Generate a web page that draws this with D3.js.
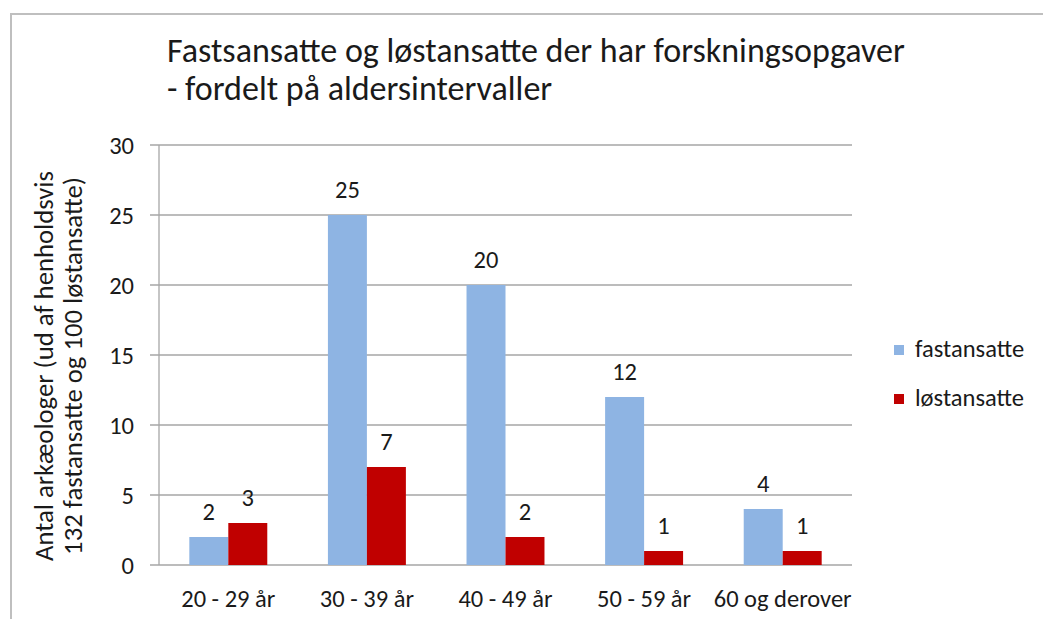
<!DOCTYPE html>
<html><head><meta charset="utf-8">
<script src="https://cdnjs.cloudflare.com/ajax/libs/d3/7.8.5/d3.min.js"></script>
<style>body{margin:0;background:#fff}svg{display:block}text{font-family:Carlito,Lato,"Open Sans",sans-serif;fill:#1a1a1a}</style>
</head><body><svg id="c" width="1043" height="619"></svg>
<script>
const categories = ["20 - 29 år","30 - 39 år","40 - 49 år","50 - 59 år","60 og derover"];
const seriesNames = ["fastansatte","løstansatte"];
const fastansatte = [2,25,20,12,4];
const loestansatte = [3,7,2,1,1];
const yTicks = [0,5,10,15,20,25,30];
const titleLines = ["Fastsansatte og løstansatte der har forskningsopgaver","- fordelt på aldersintervaller"];
const yTitleLines = ["Antal arkæologer  (ud af henholdsvis","132 fastansatte og 100 løstansatte)"];
const colors = ["#8EB4E3","#C00000"];

const svg = d3.select("#c");
const m = {left:159, right:852, top:145, bottom:565};
const FS = 24.5;

function fit(sel, target){
  const n = sel.node(); const fs = parseFloat(sel.attr("font-size"));
  const w = n.getComputedTextLength(); const nf = fs*target/w;
  sel.attr("font-size", nf); return nf;
}

// outer border
svg.append("rect").attr("x",11).attr("y",14).attr("width",1100).attr("height",700)
  .attr("fill","none").attr("stroke","#bfbfbf").attr("stroke-width",2);

const x0 = d3.scaleBand().domain(categories).range([m.left,m.right]).paddingInner(0.4375).paddingOuter(0.21875);
const x1 = d3.scaleBand().domain(seriesNames).range([0,x0.bandwidth()]);
const y = d3.scaleLinear().domain([0,30]).range([m.bottom,m.top]);

// gridlines
svg.append("g").selectAll("line").data(yTicks).join("line")
  .attr("x1",150).attr("x2",m.right).attr("y1",d=>y(d)).attr("y2",d=>y(d))
  .attr("stroke","#a6a6a6").attr("stroke-width",1.3);
// y axis line
svg.append("line").attr("x1",m.left).attr("x2",m.left).attr("y1",m.top).attr("y2",m.bottom)
  .attr("stroke","#a6a6a6").attr("stroke-width",1.3);

// y tick labels
svg.append("g").selectAll("text").data(yTicks).join("text")
  .attr("x",134).attr("y",d=>y(d)).attr("dy","0.36em").attr("text-anchor","end")
  .attr("font-size",FS).text(d=>d);

// bars
const data = categories.map((c,i)=>({c, vals:[fastansatte[i], loestansatte[i]]}));
const g = svg.append("g").selectAll("g").data(data).join("g")
  .attr("transform",d=>`translate(${x0(d.c)},0)`);
g.selectAll("rect").data(d=>d.vals.map((v,j)=>({v,s:seriesNames[j],j}))).join("rect")
  .attr("x",d=>x1(d.s)).attr("width",x1.bandwidth())
  .attr("y",d=>y(d.v)).attr("height",d=>y(0)-y(d.v))
  .attr("fill",d=>colors[d.j]);
g.selectAll("text").data(d=>d.vals.map((v,j)=>({v,s:seriesNames[j],j}))).join("text")
  .attr("x",d=>x1(d.s)+x1.bandwidth()/2).attr("y",d=>y(d.v)-17)
  .attr("text-anchor","middle").attr("font-size",FS).text(d=>d.v);

// x labels
svg.append("g").selectAll("text").data(categories).join("text")
  .attr("x",d=>x0(d)+x0.bandwidth()/2).attr("y",607).attr("text-anchor","middle")
  .attr("font-size",FS).text(d=>d);

// title
let tf = 30;
titleLines.forEach((t,i)=>{
  const s = svg.append("text").attr("x",167).attr("y",62+i*38).attr("font-size",tf).text(t);
  if(i===0) tf = fit(s,738);
});

// y title
const ycx = 366;
let yf = 22;
yTitleLines.forEach((t,i)=>{
  const s = svg.append("text").attr("transform",`translate(${53+i*29},${ycx}) rotate(-90)`)
    .attr("text-anchor","middle").attr("font-size",yf).text(t);
  if(i===0) yf = fit(s,390);
});

// legend
const lg = svg.append("g").selectAll("g").data(seriesNames).join("g")
  .attr("transform",(d,i)=>`translate(894,${345+i*49})`);
lg.append("rect").attr("width",10).attr("height",10).attr("fill",(d,i)=>colors[i]);
lg.append("text").attr("x",21).attr("y",12).attr("font-size",FS).text(d=>d);
</script></body></html>
